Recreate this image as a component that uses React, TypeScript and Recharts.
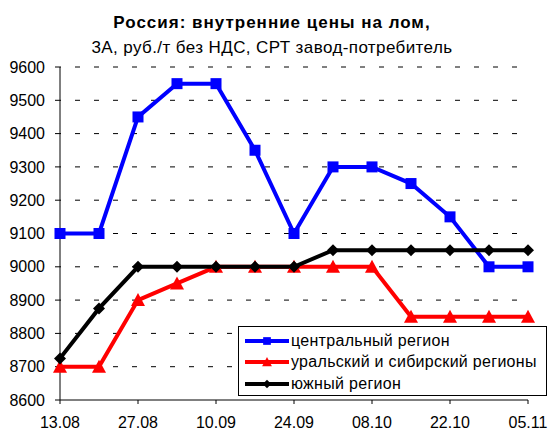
import React from "react";
import { LineChart, Line, XAxis, YAxis, CartesianGrid } from "recharts";

// Data
const dates = [
  "13.08", "20.08", "27.08", "03.09", "10.09", "17.09", "24.09",
  "01.10", "08.10", "15.10", "22.10", "29.10", "05.11",
];
const central = [9100, 9100, 9450, 9550, 9550, 9350, 9100, 9300, 9300, 9250, 9150, 9000, 9000];
const ural = [8700, 8700, 8900, 8950, 9000, 9000, 9000, 9000, 9000, 8850, 8850, 8850, 8850];
const south = [8725, 8875, 9000, 9000, 9000, 9000, 9000, 9050, 9050, 9050, 9050, 9050, 9050];
const yTicks = [8600, 8700, 8800, 8900, 9000, 9100, 9200, 9300, 9400, 9500, 9600];

const data = dates.map((d, i) => ({
  date: d,
  central: central[i],
  ural: ural[i],
  south: south[i],
}));

const FONT = "Arial, 'Liberation Sans', sans-serif";

// Markers
const marker = (type: string, color: string, cx: number, cy: number, s = 1, key?: any) => {
  if (type === "square") {
    return <rect key={key} x={cx - 5.5 * s} y={cy - 5.5 * s} width={11 * s} height={11 * s} fill={color} />;
  }
  if (type === "triangle") {
    return (
      <polygon
        key={key}
        points={`${cx},${cy - 7 * s} ${cx + 7 * s},${cy + 6 * s} ${cx - 7 * s},${cy + 6 * s}`}
        fill={color}
      />
    );
  }
  return (
    <polygon
      key={key}
      points={`${cx},${cy - 6 * s} ${cx + 6 * s},${cy} ${cx},${cy + 6 * s} ${cx - 6 * s},${cy}`}
      fill={color}
    />
  );
};

const series = [
  { key: "central", name: "центральный регион", color: "#0000FF", shape: "square" },
  { key: "ural", name: "уральский и сибирский регионы", color: "#FF0000", shape: "triangle" },
  { key: "south", name: "южный регион", color: "#000000", shape: "diamond" },
];

const LegendBox = () => (
  <div
    style={{
      position: "absolute",
      left: 238,
      top: 326,
      border: "1px solid #000",
      background: "#fff",
      width: 309,
      height: 70,
      boxSizing: "border-box",
      paddingTop: 3,
      fontFamily: FONT,
      fontSize: 16,
      letterSpacing: 0.3,
    }}
  >
    {series.map((s) => (
      <div key={s.key} style={{ display: "flex", alignItems: "center", height: 21.5 }}>
        <svg width={48} height={14} style={{ marginLeft: 5, flex: "none" }}>
          <line x1={1} y1={7} x2={45} y2={7} stroke={s.color} strokeWidth={4} />
          {marker(s.shape, s.color, 23, 7, 0.7)}
        </svg>
        <span style={{ marginLeft: -1, color: "#000", whiteSpace: "nowrap" }}>{s.name}</span>
      </div>
    ))}
  </div>
);

const App = () => {
  return (
    <div
      style={{
        position: "absolute",
        left: 0,
        top: 0,
        width: 550,
        height: 432,
        background: "#fff",
        fontFamily: FONT,
      }}
    >
      <div
        style={{
          position: "absolute",
          left: 0,
          top: 10,
          width: 544,
          textAlign: "center",
          fontSize: 17,
          lineHeight: "25px",
          color: "#000",
        }}
      >
        <div style={{ fontWeight: "bold", letterSpacing: 1 }}>Россия: внутренние цены на лом,</div>
        <div style={{ letterSpacing: 0.4 }}>3А, руб./т без НДС, СРТ завод-потребитель</div>
      </div>
      <LineChart
        width={550}
        height={432}
        data={data}
        margin={{ top: 67, right: 22, bottom: 2, left: 0 }}
      >
        <CartesianGrid
          vertical={false}
          stroke="#000"
          strokeDasharray="5 14"
          strokeDashoffset={-15}
          horizontalValues={yTicks.slice(1)}
        />
        <XAxis
          dataKey="date"
          height={30}
          interval={1}
          stroke="#000"
          tickSize={4}
          tickMargin={13}
          tick={{ fill: "#000", fontSize: 16, fontFamily: FONT }}
        />
        <YAxis
          width={60}
          domain={[8600, 9600]}
          ticks={yTicks}
          stroke="#000"
          tickSize={5}
          tickMargin={10}
          tick={{ fill: "#000", fontSize: 16, fontFamily: FONT }}
        />
        {series.map((s) => (
          <Line
            key={s.key}
            dataKey={s.key}
            name={s.name}
            stroke={s.color}
            strokeWidth={4}
            isAnimationActive={false}
            dot={(p: any) => marker(s.shape, s.color, p.cx, p.cy, 1, `${s.key}-${p.index}`)}
            activeDot={false}
          />
        ))}
      </LineChart>
      <LegendBox />
    </div>
  );
};

export default App;
